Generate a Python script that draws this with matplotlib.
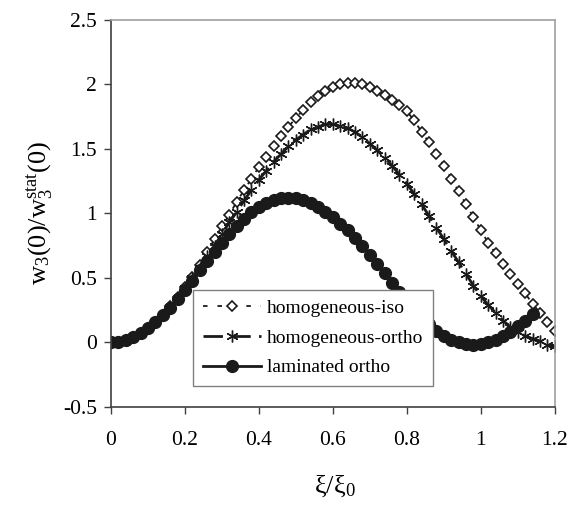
import matplotlib
matplotlib.use("Agg")
import matplotlib.pyplot as plt
import numpy as np

xi = [0.00, 0.02, 0.04, 0.06, 0.08, 0.10, 0.12, 0.14, 0.16, 0.18,
      0.20, 0.22, 0.24, 0.26, 0.28, 0.30, 0.32, 0.34, 0.36, 0.38,
      0.40, 0.42, 0.44, 0.46, 0.48, 0.50, 0.52, 0.54, 0.56, 0.58,
      0.60, 0.62, 0.64, 0.66, 0.68, 0.70, 0.72, 0.74, 0.76, 0.78,
      0.80, 0.82, 0.84, 0.86, 0.88, 0.90, 0.92, 0.94, 0.96, 0.98,
      1.00, 1.02, 1.04, 1.06, 1.08, 1.10, 1.12, 1.14, 1.16, 1.18, 1.20]

hom_iso = [0.000, 0.005, 0.02, 0.04, 0.07, 0.11, 0.16, 0.21, 0.28, 0.35,
           0.43, 0.51, 0.60, 0.70, 0.80, 0.90, 0.99, 1.09, 1.18, 1.27,
           1.36, 1.44, 1.52, 1.60, 1.67, 1.74, 1.80, 1.86, 1.91, 1.95,
           1.98, 2.00, 2.01, 2.01, 2.00, 1.98, 1.95, 1.92, 1.88, 1.84,
           1.79, 1.72, 1.63, 1.55, 1.46, 1.37, 1.27, 1.17, 1.07, 0.97,
           0.87, 0.77, 0.69, 0.61, 0.53, 0.45, 0.38, 0.30, 0.23, 0.16, 0.09]

hom_ortho = [0.000, 0.005, 0.02, 0.04, 0.07, 0.11, 0.16, 0.21, 0.27, 0.34,
             0.42, 0.50, 0.58, 0.67, 0.75, 0.84, 0.93, 1.01, 1.10, 1.18,
             1.26, 1.33, 1.40, 1.46, 1.52, 1.57, 1.61, 1.65, 1.67, 1.69,
             1.69, 1.68, 1.66, 1.63, 1.59, 1.54, 1.49, 1.43, 1.37, 1.30,
             1.23, 1.15, 1.07, 0.98, 0.89, 0.80, 0.71, 0.62, 0.53, 0.44,
             0.36, 0.29, 0.23, 0.17, 0.12, 0.08, 0.05, 0.03, 0.01, -0.02, -0.03]

xi_lam = xi[:58]
lam_ortho = [0.000, 0.005, 0.02, 0.04, 0.07, 0.11, 0.16, 0.21, 0.27, 0.34,
             0.41, 0.48, 0.56, 0.63, 0.70, 0.77, 0.84, 0.90, 0.96, 1.01,
             1.05, 1.08, 1.10, 1.12, 1.12, 1.12, 1.10, 1.08, 1.05, 1.01,
             0.97, 0.92, 0.87, 0.81, 0.75, 0.68, 0.61, 0.54, 0.46, 0.39,
             0.32, 0.25, 0.19, 0.14, 0.09, 0.05, 0.02, 0.00, -0.01, -0.02,
             -0.01, 0.00, 0.02, 0.05, 0.08, 0.13, 0.17, 0.22]

labels = ["homogeneous-iso", "homogeneous-ortho", "laminated ortho"]
xticks = [0, 0.2, 0.4, 0.6, 0.8, 1, 1.2]
xticklabels = ["0", "0.2", "0.4", "0.6", "0.8", "1", "1.2"]
yticks = [-0.5, 0, 0.5, 1, 1.5, 2, 2.5]
yticklabels = ["-0.5", "0", "0.5", "1", "1.5", "2", "2.5"]

plt.rcParams['font.family'] = ['Liberation Serif', 'DejaVu Serif']
plt.rcParams['mathtext.fontset'] = 'custom'
plt.rcParams['mathtext.rm'] = 'Liberation Serif'
plt.rcParams['mathtext.it'] = 'Liberation Serif:italic'

fig = plt.figure(figsize=(5.69, 5.05), dpi=100)
ax = fig.add_axes([0.195, 0.194, 0.78, 0.767])

ax.plot(xi, hom_iso, color='#1a1a1a', lw=1.3, dashes=(2.5, 5.5),
        marker='D', markersize=4.8, markerfacecolor='white',
        markeredgecolor='#1a1a1a', markeredgewidth=1.2, label=labels[0])
ax.plot(xi, hom_ortho, color='#1a1a1a', lw=2.0, dashes=(7, 3),
        marker=(6, 2, 0), markersize=8.5, markeredgewidth=1.0,
        markeredgecolor='#1a1a1a', label=labels[1])
ax.plot(xi_lam, lam_ortho, color='#1a1a1a', lw=2.0, linestyle='-',
        marker='o', markersize=8.5, markerfacecolor='#1a1a1a',
        markeredgecolor='#1a1a1a', label=labels[2])

ax.set_xlim(0, 1.2)
ax.set_ylim(-0.5, 2.5)
ax.set_xticks(xticks)
ax.set_xticklabels(xticklabels)
ax.set_yticks(yticks)
ax.set_yticklabels(yticklabels)
ax.tick_params(direction='out', length=5, width=1, labelsize=15.5,
               color='#404040')
ax.tick_params(axis='x', pad=12)
ax.tick_params(axis='y', pad=5)

for s in ['left', 'bottom']:
    ax.spines[s].set_color('#404040')
    ax.spines[s].set_linewidth(1.2)
for s in ['top', 'right']:
    ax.spines[s].set_color('#a0a0a0')
    ax.spines[s].set_linewidth(1.2)

ax.set_xlabel('ξ/ξ$_0$', fontsize=19)
ax.xaxis.set_label_coords(0.505, -0.172)
ax.set_ylabel('w$_3$(0)/w$_3^{\\mathrm{stat}}$(0)', fontsize=19)
ax.yaxis.set_label_coords(-0.125, 0.5)

leg = ax.legend(loc='lower left', bbox_to_anchor=(0.185, 0.054),
                fontsize=14, numpoints=1, handlelength=3.0,
                labelspacing=0.62, borderpad=0.5, handletextpad=0.3,
                fancybox=False, framealpha=1, edgecolor='#808080',
                borderaxespad=0)
leg.get_frame().set_linewidth(1.0)

fig.savefig('out.png', dpi=100)
